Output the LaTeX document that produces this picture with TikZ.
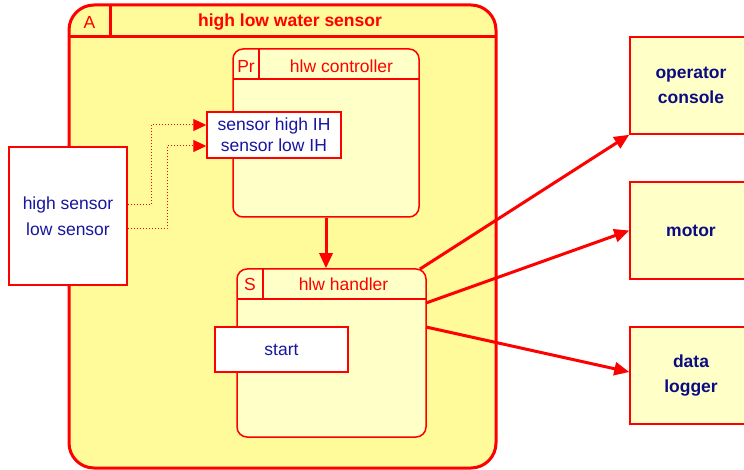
\documentclass[tikz,border=0pt]{standalone}
\usepackage{fontspec}
\setmainfont{Liberation Sans}
\usetikzlibrary{arrows.meta}
\definecolor{hlwred}{RGB}{255,0,0}
\definecolor{hlwyellow}{RGB}{255,250,154}
\definecolor{hlwpale}{RGB}{255,255,200}
\definecolor{hlwblue}{RGB}{22,22,160}
\definecolor{hlwnavy}{RGB}{12,12,130}
\tikzset{
  chart/.style={draw=hlwred, line width=3pt, fill=hlwyellow, rounded corners=25pt,
    inner sep=0pt},
  subchart/.style={draw=hlwred, line width=1.5pt, fill=hlwpale, rounded corners=10pt,
    inner sep=0pt},
  port/.style={draw=hlwred, line width=1.5pt, fill=white, inner sep=0pt,
    text=hlwblue, align=center},
  ext/.style={draw=hlwred, line width=1.5pt, fill=hlwpale, inner sep=0pt,
    text=hlwnavy, font=\fontsize{17.5}{25}\selectfont\bfseries, align=center,
    minimum width=122pt, minimum height=97pt},
  flow/.style={draw=hlwred, line width=3pt, -{Triangle[length=15pt,width=13pt]}},
  sig/.style={draw=hlwred, line width=1pt, dotted,
    -{Triangle[length=13pt,width=12pt]}},
  tag/.style={text=hlwred, inner sep=0pt},
}
\begin{document}
\begin{tikzpicture}[x=1pt, y=-1pt, font=\fontsize{17.5}{21}\selectfont]
  \useasboundingbox (0,0) rectangle (744,470);
  \clip (0,0) rectangle (744,470);
  % activity chart
  \node[chart, minimum width=427pt, minimum height=463pt] (A) at (282.5,236.5) {};
  \draw[hlwred, line width=3pt] (69,37) -- (496,37);
  \draw[hlwred, line width=3pt] (110,5) -- (110,37);
  \node[tag] (Atag) at (89.5,22) {A};
  \node[tag, font=\fontsize{17.5}{21}\selectfont\bfseries] (Aname) at (290,22) {high low water sensor};
  % controller
  \node[subchart, minimum width=186pt, minimum height=168pt] (ctl) at (326,133) {};
  \draw[hlwred, line width=1.5pt] (233,79) -- (419,79);
  \draw[hlwred, line width=1.5pt] (259,49) -- (259,79);
  \node[tag] (ctltag) at (246,66) {Pr};
  \node[tag] (ctlname) at (341.5,66) {hlw controller};
  % handler
  \node[subchart, minimum width=189pt, minimum height=168pt] (hdl) at (331.5,353) {};
  \draw[hlwred, line width=1.5pt] (237,299) -- (426,299);
  \draw[hlwred, line width=1.5pt] (263,269) -- (263,299);
  \node[tag] (hdltag) at (250,284) {S};
  \node[tag] (hdlname) at (343.5,284) {hlw handler};
  % ports
  \node[port, minimum width=134pt, minimum height=46pt] (ih) at (274,135)
    {sensor high IH\\sensor low IH};
  \node[port, minimum width=133pt, minimum height=45pt] (start) at (281.5,349.5) {start};
  \node[port, minimum width=118pt, minimum height=138pt,
    font=\fontsize{17.5}{26}\selectfont] (sens) at (68,216) {high sensor\\low sensor};
  % external
  \node[ext] (console) at (691,85.5) {operator\\console};
  \node[ext] (motor) at (691,230.5) {motor};
  \node[ext] (logger) at (691,375.5) {data\\logger};
  % flows
  \draw[sig] (sens.east |- 0,205) -| (151,125) -- (ih.west |- 0,125);
  \draw[sig] (sens.east |- 0,229) -| (167,146) -- (ih.west |- 0,146);
  \draw[flow] (ctl.south) -- (ctl.south |- hdl.north);
  \coordinate (h1) at (420,269);
  \coordinate (h2) at (426,303);
  \coordinate (h3) at (426,327);
  \draw[flow] (h1) -- (console.south west);
  \draw[flow] (h2) -- (motor.west);
  \draw[flow] (h3) -- (logger.west |- 0,372);
\end{tikzpicture}
\end{document}
